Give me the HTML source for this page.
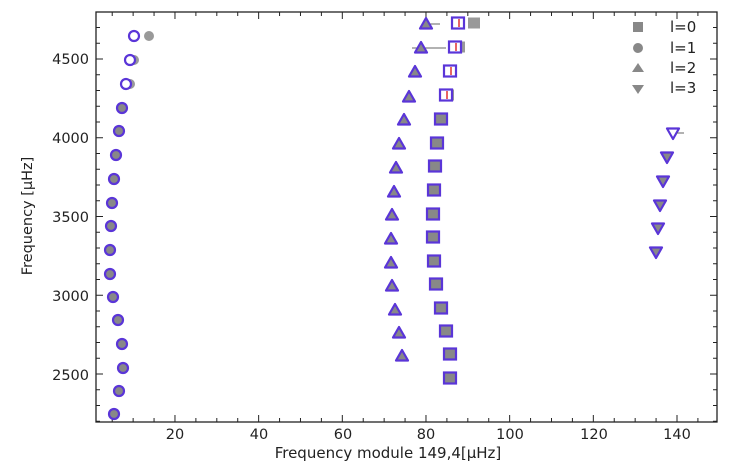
<!DOCTYPE html>
<html><head><style>body{margin:0;background:#fff}svg{display:block}text{font-family:"DejaVu Sans","Liberation Sans",sans-serif}</style></head>
<body>
<svg width="746" height="467" xmlns="http://www.w3.org/2000/svg">
<rect x="96" y="12" width="621" height="410" fill="none" stroke="#222" stroke-width="1.3"/>
<g id="ticks" stroke="#222" stroke-width="1"></g>
<g font-size="14.5" fill="#222" text-anchor="middle">
<text x="175" y="439">20</text><text x="259" y="439">40</text><text x="343" y="439">60</text><text x="426" y="439">80</text><text x="510" y="439">100</text><text x="594" y="439">120</text><text x="677" y="439">140</text>
<text x="388" y="458" font-size="15">Frequency module 149,4[μHz]</text>
</g>
<g font-size="14.5" fill="#222" text-anchor="end">
<text x="89" y="64">4500</text><text x="89" y="143">4000</text><text x="89" y="222">3500</text><text x="89" y="301">3000</text><text x="89" y="380">2500</text>
</g>
<text transform="translate(32,216) rotate(-90)" font-size="14.5" text-anchor="middle" fill="#222">Frequency [μHz]</text>
<g id="pts"></g>
<g font-size="15" fill="#222">
<rect x="633" y="22" width="10" height="10" fill="#888"/><text x="670" y="32">l=0</text>
<circle cx="638" cy="48" r="5" fill="#888"/><text x="670" y="53">l=1</text>
<polygon points="638,63 644,72 632,72" fill="#888"/><text x="670" y="73">l=2</text>
<polygon points="632,85 644,85 638,94" fill="#888"/><text x="670" y="93">l=3</text>
</g>
</svg>
<script>
const ns="http://www.w3.org/2000/svg";
const t=document.getElementById('ticks');
function L(x1,y1,x2,y2){const l=document.createElementNS(ns,'line');l.setAttribute('x1',x1);l.setAttribute('y1',y1);l.setAttribute('x2',x2);l.setAttribute('y2',y2);t.appendChild(l);}
const X=v=>91.3+v*4.1835, Y=v=>374-(v-2500)*0.1575;
for(let v=5;v<=145;v+=5){const x=X(v),len=v%20==0?7:4;L(x,422,x,422-len);L(x,12,x,12+len);}
for(let v=2200;v<=4800;v+=100){const y=Y(v);if(y<12||y>422)continue;const len=v%500==0?7:4;L(96,y,96+len,y);L(717,y,717-len,y);}
const p=document.getElementById('pts');
function add(tag,attrs){const e=document.createElementNS(ns,tag);for(const k in attrs)e.setAttribute(k,attrs[k]);p.appendChild(e);return e;}
const E='#5a35d8';
const ys=[36,60,84,108,131,155,179,203,226,250,274,297,320,344,368,391,414];
const xs=[134,130,126,122,119,116,114,112,111,110,110,113,118,122,123,119,114];
const gx={0:149,1:134,2:130};
ys.forEach((y,i)=>{if(gx[i])add('circle',{cx:gx[i],cy:y,r:5,fill:'#999'});add('circle',{cx:xs[i],cy:y,r:5,fill:gx[i]?'#fff':'#888',stroke:E,'stroke-width':2.2});});
const sq=[[458,23,474],[455,47,459],[450,71,451],[446,95,448],[441,119],[437,143],[435,166],[434,190],[433,214],[433,237],[434,261],[436,284],[441,308],[446,331],[450,354],[450,378]];
sq.forEach((c,i)=>{if(c[2])add('rect',{x:c[2]-6,y:c[1]-5.5,width:12,height:11,fill:'#999'});add('rect',{x:c[0]-6,y:c[1]-5.5,width:12,height:11,fill:i<4?'#fff':'#888',stroke:E,'stroke-width':2.2});if(i<4)add('line',{x1:c[0]+1,y1:c[1]-4,x2:c[0]+1,y2:c[1]+4,stroke:'#e03030','stroke-width':1.5});});
add('line',{x1:412,y1:48,x2:446,y2:48,stroke:'#666','stroke-width':1});
add('line',{x1:428,y1:24,x2:440,y2:24,stroke:'#666','stroke-width':1});
const tr=[[426,24],[421,48],[415,72],[409,97],[404,120],[399,144],[396,168],[394,192],[392,215],[391,239],[391,263],[392,286],[395,310],[399,333],[402,356]];
tr.forEach(c=>add('polygon',{points:`${c[0]},${c[1]-6} ${c[0]+6},${c[1]+4.5} ${c[0]-6},${c[1]+4.5}`,fill:'#888',stroke:E,'stroke-width':2.2,'stroke-linejoin':'round'}));
const td=[[673,133],[667,157],[663,181],[660,205],[658,228],[656,252]];
td.forEach((c,i)=>add('polygon',{points:`${c[0]-6},${c[1]-4.5} ${c[0]+6},${c[1]-4.5} ${c[0]},${c[1]+6}`,fill:i==0?'#fff':'#888',stroke:E,'stroke-width':2.2,'stroke-linejoin':'round'}));
add('line',{x1:677,y1:133,x2:684,y2:133,stroke:'#666','stroke-width':1});
</script>
</body></html>
